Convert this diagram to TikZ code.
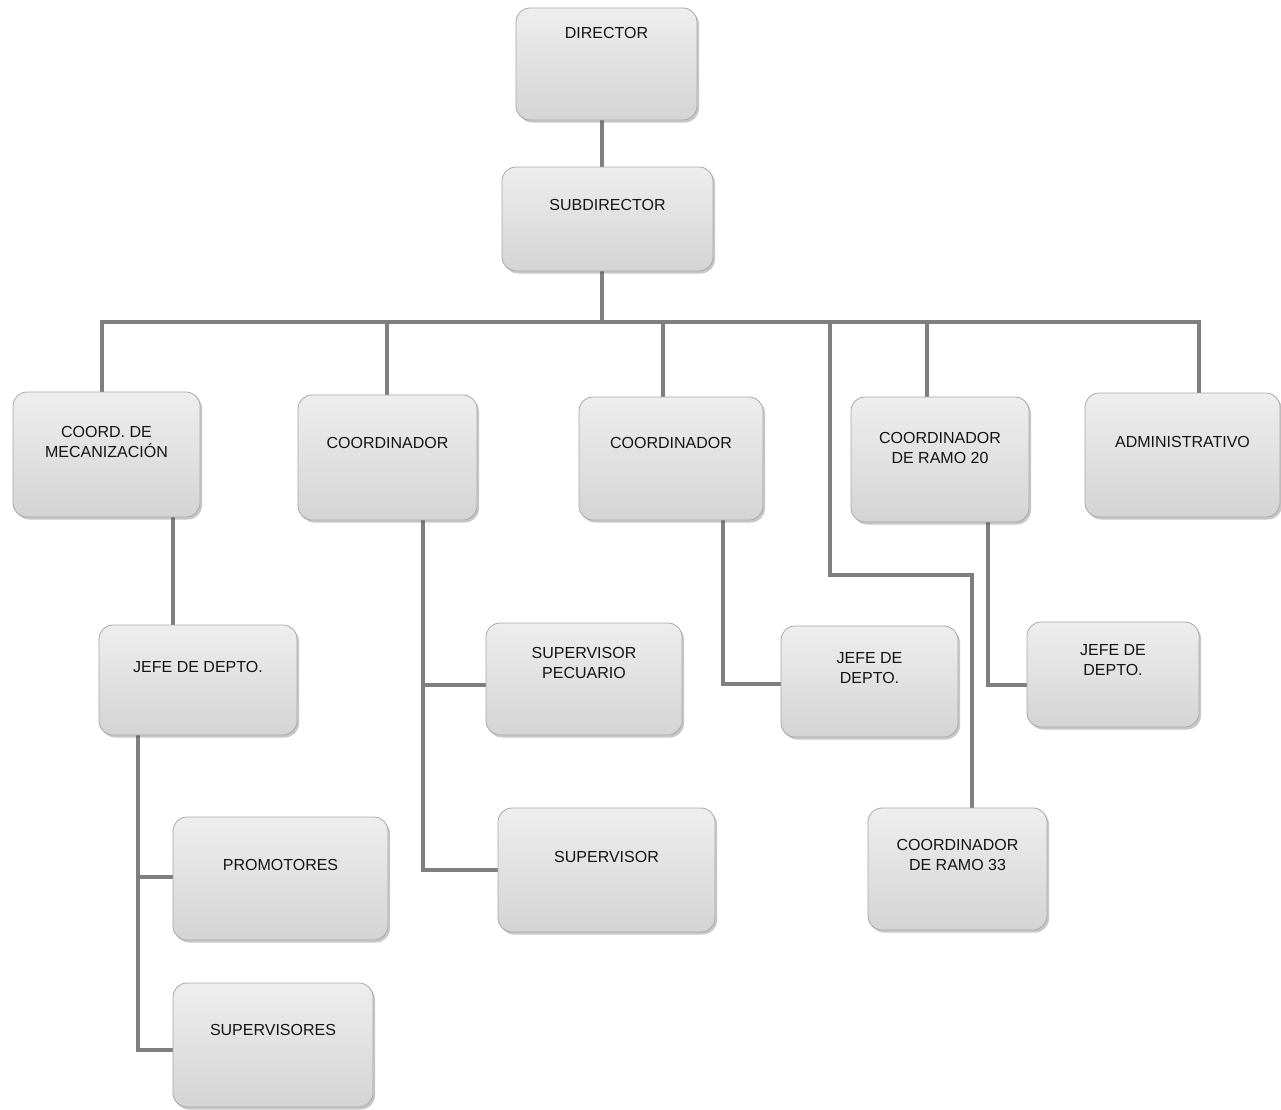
\documentclass[tikz,border=0pt]{standalone}
\usepackage{fontspec}
\setmainfont{Liberation Sans}
\usetikzlibrary{shadows,calc}
\definecolor{linegray}{HTML}{7F7F7F}
\definecolor{boxtop}{HTML}{EEEEEE}
\definecolor{boxbot}{HTML}{D4D4D4}
\definecolor{boxedge}{HTML}{A8A8A8}
\pgfdeclarelayer{bg}
\pgfsetlayers{bg,main}
\tikzset{
  orgbox/.style={rectangle, rounded corners=14pt, draw=boxedge, line width=0.8pt,
    top color=boxtop, bottom color=boxbot, inner sep=0pt,
    drop shadow={shadow xshift=2pt, shadow yshift=-2.5pt, opacity=0.3, fill=black!70}},
  lbl/.style={font=\fontsize{16}{20}\selectfont, align=center, inner sep=0pt, text=black!92},
  conn/.style={draw=linegray, line width=4pt},
}
\newcommand\mkbox[7]{%
  \node[orgbox, minimum width={(#4-#2)*1pt}, minimum height={(#5-#3)*1pt}]
    (#1) at ({(#2+#4)/2},{(#3+#5)/2}) {};
  \node[lbl] (#1-t) at ({(#2+#4)/2},#6) {#7};
}
\begin{document}
\begin{tikzpicture}[x=1pt,y=-1pt]
\useasboundingbox (0,0) rectangle (1281,1109);
\begin{pgfonlayer}{bg}
\fill[white] (0,0) rectangle (1281,1109);
\end{pgfonlayer}

\mkbox{dir}{516}{8}{697}{120}{33}{DIRECTOR}
\mkbox{sub}{502}{167}{713}{271}{205}{SUBDIRECTOR}

\mkbox{mec}{13}{392}{200}{517}{442}{COORD. DE\\MECANIZACIÓN}
\mkbox{coa}{298}{395}{477}{520}{443}{COORDINADOR}
\mkbox{cob}{579}{397}{763}{520}{443}{COORDINADOR}
\mkbox{rv}{851}{397}{1029}{522}{448}{COORDINADOR\\DE RAMO 20}
\mkbox{adm}{1085}{393}{1280}{517}{442}{ADMINISTRATIVO}

\mkbox{jl}{99}{625}{297}{735}{667}{JEFE DE DEPTO.}
\mkbox{sp}{486}{623}{682}{735}{663}{SUPERVISOR\\PECUARIO}
\mkbox{jm}{781}{626}{958}{737}{668}{JEFE DE\\DEPTO.}
\mkbox{jr}{1027}{622}{1199}{727}{660}{JEFE DE\\DEPTO.}

\mkbox{prom}{173}{817}{388}{940}{865}{PROMOTORES}
\mkbox{sup}{498}{808}{715}{932}{857}{SUPERVISOR}
\mkbox{rt}{868}{808}{1047}{930}{855}{COORDINADOR\\DE RAMO 33}
\mkbox{svs}{173}{983}{373}{1107}{1030}{SUPERVISORES}

\coordinate (busL) at (102,322);
\coordinate (busR) at (1199,322);
\coordinate (j0) at (602,322);
\coordinate (d1) at (387,322);
\coordinate (d2) at (663,322);
\coordinate (d3) at (830,322);
\coordinate (d4) at (927,322);
\coordinate (lgA) at (830,575);
\coordinate (lgB) at (972,575);
\coordinate (m1) at (173,600);
\coordinate (jx) at (138,877);
\coordinate (kx) at (423,685);
\coordinate (ky) at (423,870);
\coordinate (nx) at (723,684);
\coordinate (rx) at (988,685);

\begin{pgfonlayer}{bg}
\draw[conn] (j0 |- dir.south) -- (j0 |- sub.north);
\draw[conn] (j0 |- sub.south) -- (j0);
\draw[conn] (busL |- mec.north) -- (busL) -- (busR) -- (busR |- adm.north);
\draw[conn] (d1) -- (d1 |- coa.north);
\draw[conn] (d2) -- (d2 |- cob.north);
\draw[conn] (d4) -- (d4 |- rv.north);
\draw[conn] (d3) -- (lgA) -- (lgB) -- (lgB |- rt.north);
\draw[conn] (m1 |- mec.south) -- (m1 |- jl.north);
\draw[conn] (jx |- jl.south) -- ($(jx |- svs.west)+(0,5)$) -- ($(svs.west)+(0,5)$);
\draw[conn] (jx) -- (jx -| prom.west);
\draw[conn] (kx |- coa.south) -- (ky) -- (ky -| sup.west);
\draw[conn] (kx) -- (kx -| sp.west);
\draw[conn] (nx |- cob.south) -- (nx) -- (nx -| jm.west);
\draw[conn] (rx |- rv.south) -- (rx) -- (rx -| jr.west);
\end{pgfonlayer}
\end{tikzpicture}
\end{document}
